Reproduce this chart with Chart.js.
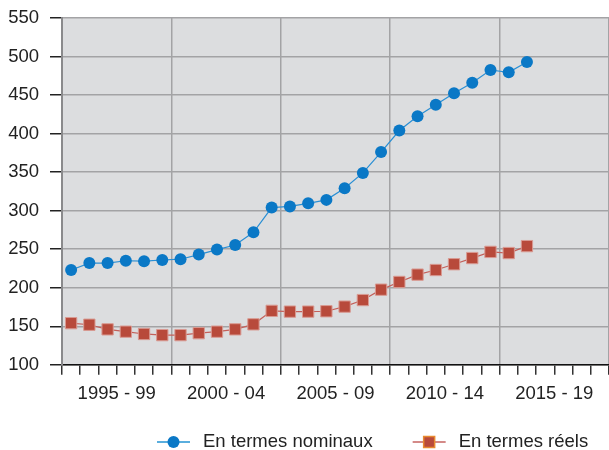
<!DOCTYPE html>
<html>
<head>
<meta charset="utf-8">
<script src="https://cdn.jsdelivr.net/npm/chart.js@4.4.1/dist/chart.umd.min.js"></script>
<style>
  html, body { margin: 0; padding: 0; background: #fff; }
</style>
</head>
<body>
<canvas id="myChart" width="609" height="450"></canvas>
<script>
// periodes (etiquettes de l'axe x, une par groupe de 6 points)
const periodes = ['1995 - 99', '2000 - 04', '2005 - 09', '2010 - 14', '2015 - 19'];
const nbCases = 30; // 6 cases par periode

// valeurs
const nominaux = [223, 232, 232, 235, 234.5, 236, 237, 243, 249.5, 255.5, 272, 304, 305.5, 309.5, 314, 329, 349, 376, 404, 422.5, 437.5, 452.5, 466, 482.5, 479.5, 493];
const reels = [154, 152, 146, 143, 140, 138.5, 138.5, 141, 143, 146, 152.5, 170, 169, 169, 169.5, 175.5, 184, 197.5, 207.5, 217, 223, 230.5, 238.5, 246.5, 245, 254];

const yMin = 100, yMax = 550, yPas = 50;
const police = '"Liberation Sans", Arial, sans-serif';

const fondGris = {
  id: 'fondGris',
  beforeDraw(chart) {
    const a = chart.chartArea;
    const ctx = chart.ctx;
    ctx.save();
    ctx.fillStyle = '#dcdddf';
    ctx.fillRect(a.left, a.top, a.right - a.left, a.bottom - a.top);
    ctx.restore();
  }
};

// legende en bas : trait + marqueur + texte
const legendeBas = {
  id: 'legendeBas',
  afterDraw(chart) {
    const ctx = chart.ctx;
    let x = 157;
    const y = 442;
    ctx.save();
    ctx.font = '18.5px ' + police;
    ctx.textBaseline = 'middle';
    chart.data.datasets.forEach(ds => {
      ctx.strokeStyle = ds.legendeTrait;
      ctx.lineWidth = 2;
      ctx.beginPath();
      ctx.moveTo(x, y);
      ctx.lineTo(x + 33, y);
      ctx.stroke();
      ctx.fillStyle = ds.pointBackgroundColor;
      if (ds.pointStyle === 'rect') {
        ctx.fillRect(x + 11, y - 5.5, 11, 11);
        ctx.strokeStyle = ds.legendeBord;
        ctx.lineWidth = 1.5;
        ctx.strokeRect(x + 11, y - 5.5, 11, 11);
      } else {
        ctx.beginPath();
        ctx.arc(x + 16.5, y, 6, 0, Math.PI * 2);
        ctx.fill();
      }
      ctx.fillStyle = '#222';
      ctx.fillText(ds.label, x + 46, y);
      x += 46 + ctx.measureText(ds.label).width + 40;
    });
    ctx.restore();
  }
};

const toPoints = arr => arr.map((v, i) => ({ x: i + 0.5, y: v }));

new Chart(document.getElementById('myChart'), {
  type: 'line',
  data: {
    datasets: [{
      label: 'En termes nominaux',
      data: toPoints(nominaux),
      borderColor: '#2a8fd4',
      borderWidth: 1.2,
      pointStyle: 'circle',
      pointRadius: 6,
      pointBackgroundColor: '#0a78c6',
      pointBorderColor: '#0a78c6',
      pointBorderWidth: 0,
      legendeTrait: '#5aaede',
      tension: 0
    }, {
      label: 'En termes réels',
      data: toPoints(reels),
      borderColor: '#c4605a',
      borderWidth: 1.2,
      pointStyle: 'rect',
      pointRadius: 8,
      pointBackgroundColor: '#b84a3b',
      pointBorderColor: '#d99a92',
      pointBorderWidth: 1,
      legendeTrait: '#d48a88',
      legendeBord: '#e88a30',
      tension: 0
    }]
  },
  options: {
    responsive: false,
    animation: false,
    layout: { autoPadding: false, padding: { left: 8, right: 0, top: 18, bottom: 37 } },
    plugins: {
      legend: { display: false },
      tooltip: { enabled: false }
    },
    scales: {
      x: {
        type: 'linear',
        min: 0,
        max: nbCases,
        afterFit: s => { s.paddingLeft = 0; s.paddingRight = 0; },
        border: { color: '#111', width: 1.5 },
        grid: {
          color: c => (Math.round(c.tick.value) % 6 === 0 ? '#a3a3a5' : 'rgba(0,0,0,0)'),
          lineWidth: 1.5,
          tickColor: '#333',
          tickLength: 10
        },
        ticks: {
          stepSize: 1,
          autoSkip: false,
          maxRotation: 0,
          padding: 8,
          color: '#222',
          font: { size: 18.5, family: police },
          callback: v => {
            const n = Math.round(v);
            return n % 6 === 3 ? periodes[(n - 3) / 6] : '';
          }
        }
      },
      y: {
        min: yMin,
        max: yMax,
        afterFit: s => { s.width = 54; s.paddingTop = 0; s.paddingBottom = 0; },
        border: { color: '#8a8a8c', width: 2 },
        grid: {
          color: '#a3a3a5',
          lineWidth: 1.5,
          tickColor: '#222',
          tickLength: 12
        },
        ticks: {
          stepSize: yPas,
          padding: 11,
          color: '#222',
          font: { size: 18.5, family: police }
        }
      }
    }
  },
  plugins: [fondGris, legendeBas]
});
</script>
</body>
</html>
